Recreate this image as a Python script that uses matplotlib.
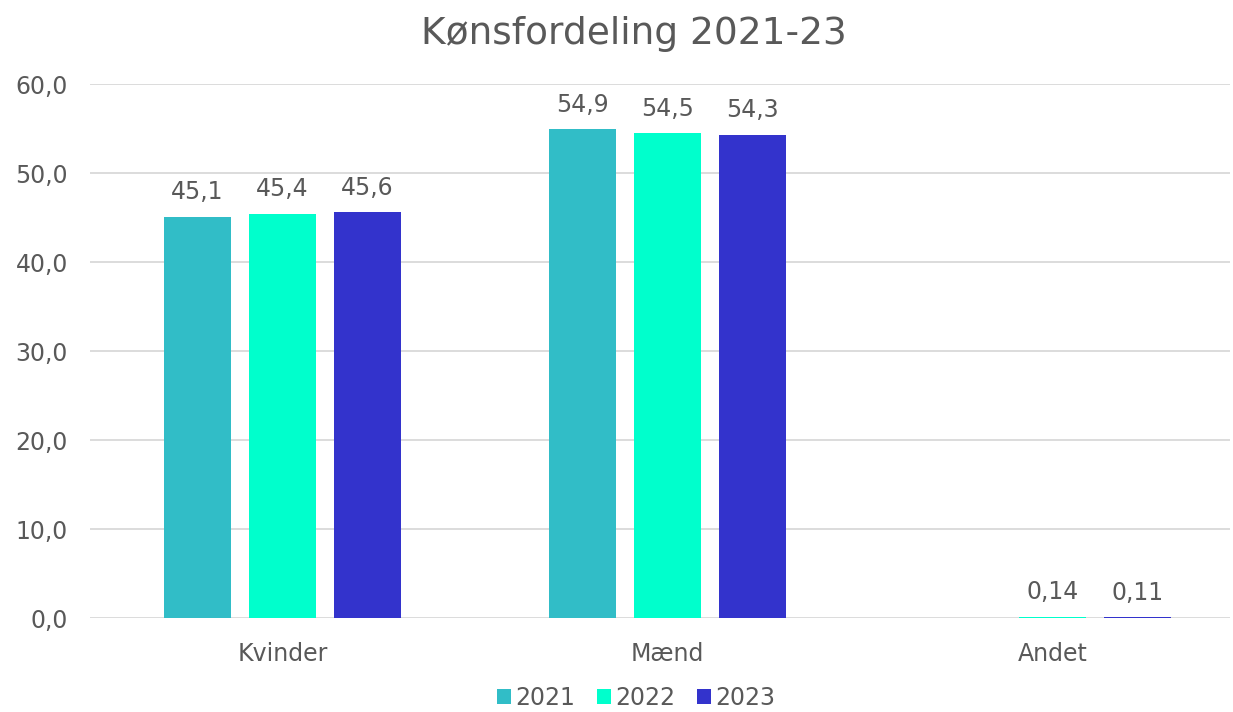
import numpy as np
import matplotlib.pyplot as plt

plt.rcParams['font.family'] = ['DejaVu Sans']

# data
kategorier = ['Kvinder', 'Mænd', 'Andet']
aar = ['2021', '2022', '2023']
v2021 = [45.1, 54.9, np.nan]
v2022 = [45.4, 54.5, 0.14]
v2023 = [45.6, 54.3, 0.11]
etiketter = [['45,1', '54,9', ''], ['45,4', '54,5', '0,14'], ['45,6', '54,3', '0,11']]
farver = ['#31BDC7', '#00FFCC', '#3333CC']
yticks = [0, 10, 20, 30, 40, 50, 60]

tekstfarve = '#595959'

fig = plt.figure(figsize=(12.33, 7.12), dpi=100)
ax = fig.add_axes([0.073, 0.132, 0.9976 - 0.073, 0.882 - 0.132])

x = np.arange(len(kategorier))
bredde = 0.174
step = 0.221
serier = [v2021, v2022, v2023]
for i, (vals, lab, c) in enumerate(zip(serier, etiketter, farver)):
    pos = x + (i - 1) * step
    ax.bar(pos, vals, width=bredde, color=c, label=aar[i], zorder=3)
    for p, v, t in zip(pos, vals, lab):
        if t:
            ax.text(p, v + 1.4, t, ha='center', va='bottom', fontsize=17, color=tekstfarve)

ax.set_ylim(0, 60)
ax.set_xlim(-0.5, 2.461)
ax.set_yticks(yticks)
ax.set_yticklabels([f'{t:.1f}'.replace('.', ',') for t in yticks], fontsize=17, color=tekstfarve)
ax.set_xticks(x)
ax.set_xticklabels(kategorier, fontsize=17, color=tekstfarve)
ax.tick_params(length=0)
ax.tick_params(axis='x', pad=17)
ax.tick_params(axis='y', pad=16)
ax.grid(axis='y', color='#d9d9d9', linewidth=1.3, zorder=0)
for s in ax.spines.values():
    s.set_visible(False)

fig.suptitle('Kønsfordeling 2021-23', fontsize=27, color=tekstfarve, x=0.514, y=0.978)

fig.legend(loc='lower center', ncol=3, frameon=False, fontsize=17,
           bbox_to_anchor=(0.516, -0.027), handlelength=0.6, handleheight=0.6,
           handletextpad=0.2, columnspacing=0.9, labelcolor=tekstfarve)

fig.savefig('out.png', dpi=100)
